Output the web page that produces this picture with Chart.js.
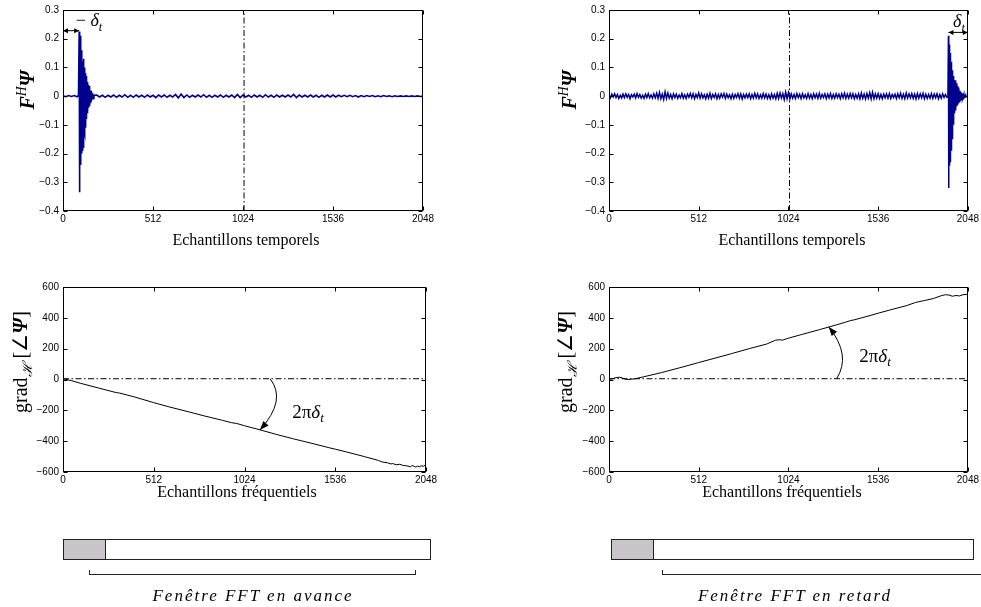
<!DOCTYPE html>
<html>
<head>
<meta charset="utf-8">
<title>Fenêtre FFT en avance / en retard</title>
<script src="https://cdn.jsdelivr.net/npm/chart.js@4.4.0/dist/chart.umd.min.js"></script>
<style>
    html, body { margin: 0; padding: 0; background: #fff; }
    #stage { position: relative; width: 981px; height: 607px; overflow: hidden; }
    #stage canvas { position: absolute; left: 0; top: 0; }
    .txt { position: absolute; z-index: 2; color: #000; white-space: nowrap; line-height: 1;
           font-family: 'Liberation Serif', 'Times New Roman', serif; transform: translate(-50%, -50%); }
    .xt { font-size: 16px; }
    .yt { font-size: 20px; transform: translate(-50%, -50%) rotate(-90deg); }
    .ann { font-size: 18px; }
    .ann.big { font-size: 19px; }
    .cap { font-size: 17px; font-style: italic; letter-spacing: 2px; }
    .bi { font-weight: bold; font-style: italic; }
    .it { font-style: italic; }
    sub, sup { font-size: 0.68em; line-height: 0; }
    .box { position: absolute; z-index: 2; top: 539px; height: 21px; box-sizing: border-box;
           border: 1px solid #222; background: #fff; }
    .box.grey { background: #c9c4c9; }
    .bracket { position: absolute; z-index: 2; top: 570px; height: 5px; box-sizing: border-box;
               border: 1px solid #222; border-top: none; }
</style>
</head>
<body>
<div id="stage">
    <canvas id="c-temps-avance" width="981" height="607"></canvas>
    <canvas id="c-temps-retard" width="981" height="607"></canvas>
    <canvas id="c-phase-avance" width="981" height="607"></canvas>
    <canvas id="c-phase-retard" width="981" height="607"></canvas>

    <!-- axis titles -->
    <div class="txt yt" style="left:27px; top:90px;"><span class="bi">F</span><sup class="it">H</sup><span class="bi">Ψ</span></div>
    <div class="txt yt" style="left:569px; top:90px;"><span class="bi">F</span><sup class="it">H</sup><span class="bi">Ψ</span></div>
    <div class="txt yt" style="left:20px; top:362px;">grad<sub class="it">ℋ</sub> [∠<span class="bi">Ψ</span>]</div>
    <div class="txt yt" style="left:565px; top:362px;">grad<sub class="it">ℋ</sub> [∠<span class="bi">Ψ</span>]</div>
    <div class="txt xt" style="left:246px; top:240px;">Echantillons temporels</div>
    <div class="txt xt" style="left:792px; top:240px;">Echantillons temporels</div>
    <div class="txt xt" style="left:237px; top:492px;">Echantillons fréquentiels</div>
    <div class="txt xt" style="left:782px; top:492px;">Echantillons fréquentiels</div>

    <!-- annotations -->
    <div class="txt ann" style="left:89px; top:20px;">− <span class="it">δ</span><sub class="it">t</sub></div>
    <div class="txt ann" style="left:959px; top:21px;"><span class="it">δ</span><sub class="it">t</sub></div>
    <div class="txt ann big" style="left:308px; top:411px;">2π<span class="it">δ</span><sub class="it">t</sub></div>
    <div class="txt ann big" style="left:875px; top:355px;">2π<span class="it">δ</span><sub class="it">t</sub></div>

    <!-- FFT window sketches -->
    <div class="box" style="left:63px; width:368px;"></div>
    <div class="box grey" style="left:63px; width:43px;"></div>
    <div class="bracket" style="left:89px; width:327px;"></div>
    <div class="txt cap" style="left:253px; top:595px;">Fenêtre FFT en avance</div>

    <div class="box" style="left:611px; width:363px;"></div>
    <div class="box grey" style="left:611px; width:43px;"></div>
    <div class="bracket" style="left:662px; width:340px;"></div>
    <div class="txt cap" style="left:795px; top:595px;">Fenêtre FFT en retard</div>
</div>

<script>
// ── Data ──────────────────────────────────────────────

const CENTER_SAMPLE = 1030;     // vertical dash-dot marker (top plots)
const REF_LEVEL = 5;            // horizontal dash-dot marker (bottom plots)

// Top-left: impulse response, window in advance (burst near the start)
const burstAvanceX = [88, 92, 93, 95, 96, 98, 99, 101, 102, 104,
    105, 107, 108, 110, 111, 113, 114, 116, 117, 119,
    120, 122, 123, 125, 126, 128, 129, 131, 132, 134,
    135, 137, 138, 140, 141, 144, 145, 148, 149, 152,
    153, 156, 157, 160, 161, 165, 166, 170, 171, 176];
const burstAvanceY = [0.002, 0.225, -0.335, 0.19, -0.26, 0.21, -0.22, 0.17, -0.24, 0.15,
    -0.2, 0.16, -0.17, 0.12, -0.19, 0.1, -0.15, 0.13, -0.18, 0.09,
    -0.12, 0.1, -0.13, 0.07, -0.1, 0.08, -0.11, 0.06, -0.08, 0.07,
    -0.07, 0.05, -0.06, 0.045, -0.05, 0.04, -0.04, 0.03, -0.035, 0.035,
    -0.03, 0.02, -0.025, 0.02, -0.018, 0.012, -0.012, 0.008, -0.008, 0.003];
// noise floor in thousandths, one value every NOISE_STEP_AVANCE samples
const NOISE_STEP_AVANCE = 16;
const noiseAvance = [1, -2, 2, -1, 2, -2, 1, -1, 1, -1, 1, -2,
    4, -3, 3, -4, 3, -3, 4, -4, 3, -3, 5, -4,
    3, -4, 4, -3, 3, -4, 4, -3, 3, -5, 4, -3,
    4, -4, 3, -3, 6, -6, 7, -5, 4, -4, 3, -3,
    4, -3, 5, -4, 3, -4, 3, -3, 4, -4, 3, -3,
    4, -5, 6, -5, 4, -3, 3, -4, 4, -3, 3, -4,
    5, -3, 3, -4, 4, -3, 3, -3, 4, -3, 6, -5,
    4, -3, 3, -3, 4, -3, 3, -4, 3, -3, 4, -3,
    4, -3, 3, -2, 3, -2, 3, -2, 2, -3, 2, -2,
    2, -1, 2, -2, 1, -2, 2, -1, 1, -2, 1, -1,
    1, -1, 1, -1, 1, -1, 1, -1, 0];

// Top-right: impulse response, window late (burst near the end)
const burstRetardX = [1934, 1937, 1938, 1940, 1941, 1943, 1944, 1946, 1947, 1949,
    1950, 1952, 1953, 1955, 1956, 1958, 1959, 1961, 1962, 1964,
    1965, 1967, 1968, 1971, 1972, 1975, 1976, 1979, 1980, 1984,
    1985, 1989, 1990, 1995, 1996, 2001, 2002, 2008, 2009, 2016,
    2017, 2025, 2026, 2035, 2036, 2048];
const burstRetardY = [-0.004, 0.21, -0.32, 0.2, -0.24, 0.18, -0.2, 0.15, -0.23, 0.13,
    -0.18, 0.12, -0.19, 0.1, -0.13, 0.09, -0.15, 0.08, -0.11, 0.07,
    -0.1, 0.06, -0.07, 0.05, -0.06, 0.055, -0.05, 0.04, -0.045, 0.045,
    -0.035, 0.035, -0.03, 0.03, -0.025, 0.02, -0.02, 0.015, -0.015, 0.01,
    -0.01, 0.006, -0.006, 0.004, -0.003, 0.0];
// noise floor in thousandths, samples 0..1928
const NOISE_STEP_RETARD = 8;
const noiseRetard = [4, -6, 7, -3, 8, -5, 6, -8, 3, -6, 7,
    -5, 8, -4, 6, -9, 5, -3, 7, -6, 9, -4,
    6, -7, 3, -8, 7, -5, 9, -6, 4, -7, 8,
    -6, 10, -8, 13, -9, 7, -12, 15, -8, 11, -7,
    6, -9, 8, -5, 7, -8, 4, -6, 9, -7, 5,
    -8, 7, -4, 9, -6, 8, -9, 6, -5, 11, -7,
    8, -6, 5, -9, 7, -7, 10, -8, 6, -5, 8,
    -9, 6, -7, 8, -4, 9, -8, 7, -6, 5, -9,
    7, -8, 6, -5, 9, -7, 8, -10, 6, -6, 7,
    -5, 8, -9, 6, -7, 10, -6, 8, -8, 5, -7,
    9, -6, 7, -8, 5, -9, 8, -7, 6, -9, 10,
    -8, 11, -7, 9, -12, 14, -9, 12, -10, 8, -7,
    6, -8, 9, -5, 7, -9, 8, -6, 5, -8, 9,
    -7, 6, -9, 8, -6, 7, -8, 10, -7, 6, -5,
    8, -9, 7, -6, 9, -8, 6, -7, 8, -5, 7,
    -9, 8, -6, 10, -8, 7, -7, 9, -6, 8, -9,
    6, -7, 8, -9, 11, -8, 7, -10, 9, -7, 12,
    -10, 13, -9, 8, -7, 9, -8, 6, -9, 7, -6,
    8, -7, 9, -8, 6, -5, 7, -9, 8, -6, 10,
    -8, 7, -9, 11, -7, 8, -6, 9, -8, 7, -10,
    9, -7, 8, -6, 10, -9, 7, -8, 6, -7, 9,
    -8, 7, -6, 8, -9, 6, -7, 8, -5, 6, -4];

// Bottom-left: unwrapped phase gradient, window in advance
const phaseAvanceX = [0, 50, 100, 200, 300, 320, 400, 512, 600, 700,
    800, 900, 950, 980, 1024, 1100, 1200, 1300, 1400, 1500,
    1536, 1600, 1700, 1780, 1800, 1830, 1850, 1860, 1880, 1900,
    1920, 1940, 1960, 1970, 1980, 1990, 2000, 2010, 2020, 2035, 2048];
const phaseAvanceY = [5, -8, -25, -55, -85, -88, -112, -150, -178, -207,
    -237, -265, -280, -285, -300, -323, -355, -385, -413, -442,
    -452, -470, -500, -525, -535, -540, -548, -545, -553, -550,
    -558, -560, -566, -558, -563, -568, -562, -566, -560, -563, -550];

// Bottom-right: unwrapped phase gradient, window late
const phaseRetardX = [0, 20, 40, 60, 75, 90, 110, 130, 150, 200,
    300, 400, 512, 600, 700, 800, 900, 950, 975, 990,
    1024, 1100, 1200, 1300, 1350, 1380, 1400, 1500, 1536, 1600,
    1700, 1750, 1800, 1850, 1900, 1920, 1940, 1960, 1980, 2000, 2020, 2048];
const phaseRetardY = [0, 5, 12, 15, 10, 3, 0, 2, 5, 18,
    45, 75, 110, 137, 168, 200, 230, 255, 258, 255,
    268, 292, 323, 355, 372, 383, 387, 418, 430, 450,
    480, 500, 512, 525, 545, 550, 548, 540, 545, 542, 550, 553];

// ── Helpers ───────────────────────────────────────────

const W = 981, H = 607, X_AXIS_H = 18;
const SIGNAL_BLUE = '#00008f';
const DASH_DOT = [6, 2.5, 1.5, 2.5];

Chart.defaults.font.family = "'Liberation Sans', Arial, sans-serif";
Chart.defaults.font.size = 10;
Chart.defaults.color = '#000';

function buildSignal(noise, step, bx, by) {
    const lo = bx[0], hi = bx[bx.length - 1];
    const pts = [];
    noise.forEach((v, i) => {
        const x = i * step;
        if (x < lo || x > hi) pts.push({ x, y: v / 1000 });
    });
    bx.forEach((x, i) => pts.push({ x, y: by[i] }));
    return pts.sort((a, b) => a.x - b.x);
}

function zip(xs, ys) {
    return xs.map((x, i) => ({ x, y: ys[i] }));
}

function fmtTick(v) {
    const r = Math.round(v * 10) / 10;
    if (r === 0) return '0';
    const s = Math.abs(r) < 1 ? Math.abs(r).toFixed(1) : String(Math.abs(r));
    return (r < 0 ? '\u2212' : '') + s;
}

function arrowHead(ctx, x, y, dx, dy, len, half) {
    const n = Math.hypot(dx, dy) || 1;
    const ux = dx / n, uy = dy / n;
    ctx.beginPath();
    ctx.moveTo(x, y);
    ctx.lineTo(x - ux * len - uy * half, y - uy * len + ux * half);
    ctx.lineTo(x - ux * len + uy * half, y - uy * len - ux * half);
    ctx.closePath();
    ctx.fill();
}

// Box + inward MATLAB-style ticks, then the annotation arrows
const framePlugin = {
    id: 'frame',
    afterDatasetsDraw(chart, args, opts) {
        const { ctx, chartArea: a } = chart;
        const xs = chart.scales.x, ys = chart.scales.y;
        const L = Math.round(a.left) + 0.5, R = Math.round(a.right) - 0.5;
        const T = Math.round(a.top) + 0.5, B = Math.round(a.bottom) - 0.5;
        ctx.save();
        ctx.strokeStyle = '#000';
        ctx.fillStyle = '#000';
        ctx.lineWidth = 1;
        ctx.strokeRect(L, T, R - L, B - T);
        ctx.beginPath();
        xs.ticks.forEach(t => {
            const px = Math.round(xs.getPixelForValue(t.value)) + 0.5;
            ctx.moveTo(px, B); ctx.lineTo(px, B - 4);
            ctx.moveTo(px, T); ctx.lineTo(px, T + 4);
        });
        ys.ticks.forEach(t => {
            const py = Math.round(ys.getPixelForValue(t.value)) + 0.5;
            ctx.moveTo(L, py); ctx.lineTo(L + 4, py);
            ctx.moveTo(R, py); ctx.lineTo(R - 4, py);
        });
        ctx.stroke();

        (opts.arrows || []).forEach(ar => {
            const p = v => [xs.getPixelForValue(v[0]), ys.getPixelForValue(v[1])];
            const [x0, y0] = p(ar.from), [x1, y1] = p(ar.to);
            ctx.beginPath();
            if (ar.ctrl) {
                const [cx, cy] = p(ar.ctrl);
                ctx.moveTo(x0, y0);
                ctx.quadraticCurveTo(cx, cy, x1, y1);
                ctx.stroke();
                arrowHead(ctx, x1, y1, x1 - cx, y1 - cy, 9, 3.5);
            } else {
                ctx.moveTo(x0, y0);
                ctx.lineTo(x1, y1);
                ctx.stroke();
                arrowHead(ctx, x1, y1, x1 - x0, y1 - y0, 5, 2.5);
                arrowHead(ctx, x0, y0, x0 - x1, y0 - y1, 5, 2.5);
            }
        });
        ctx.restore();
    }
};

function makeChart(id, rect, datasets, yRange, arrows) {
    return new Chart(document.getElementById(id), {
        type: 'line',
        data: { datasets },
        options: {
            responsive: false,
            animation: false,
            events: [],
            layout: { padding: { left: 0, top: rect.top, right: W - rect.right, bottom: H - rect.bottom - X_AXIS_H } },
            elements: { point: { radius: 0 }, line: { tension: 0, borderWidth: 1 } },
            plugins: { legend: { display: false }, tooltip: { enabled: false }, frame: { arrows } },
            scales: {
                x: {
                    type: 'linear', min: 0, max: 2048,
                    grid: { display: false, drawTicks: false }, border: { display: false },
                    ticks: { stepSize: 512, padding: 2, maxRotation: 0, autoSkip: false, callback: v => String(v) },
                    afterFit: s => { s.height = X_AXIS_H; }
                },
                y: {
                    min: yRange[0], max: yRange[1],
                    grid: { display: false, drawTicks: false }, border: { display: false },
                    ticks: { stepSize: yRange[2], padding: 4, callback: fmtTick },
                    afterFit: s => { s.width = rect.left; }
                }
            }
        },
        plugins: [framePlugin]
    });
}

function vLine(x, y0, y1) {
    return { data: [{ x, y: y0 }, { x, y: y1 }], borderColor: '#000', borderDash: DASH_DOT, borderWidth: 1 };
}
function hLine(y) {
    return { data: [{ x: 0, y }, { x: 2048, y }], borderColor: '#000', borderDash: DASH_DOT, borderWidth: 1 };
}

// ── Charts ────────────────────────────────────────────

makeChart('c-temps-avance', { left: 63, top: 10, right: 423, bottom: 211 }, [
    vLine(CENTER_SAMPLE, -0.4, 0.3),
    { data: buildSignal(noiseAvance, NOISE_STEP_AVANCE, burstAvanceX, burstAvanceY), borderColor: SIGNAL_BLUE, borderWidth: 1.6 }
], [-0.4, 0.3, 0.1], [
    { from: [0, 0.228], to: [burstAvanceX[1], 0.228] }
]);

makeChart('c-temps-retard', { left: 609, top: 10, right: 970, bottom: 211 }, [
    vLine(CENTER_SAMPLE, -0.4, 0.3),
    { data: buildSignal(noiseRetard, NOISE_STEP_RETARD, burstRetardX, burstRetardY), borderColor: SIGNAL_BLUE, borderWidth: 1.5 }
], [-0.4, 0.3, 0.1], [
    { from: [burstRetardX[1], 0.222], to: [2048, 0.222] }
]);

makeChart('c-phase-avance', { left: 63, top: 287, right: 426, bottom: 472 }, [
    hLine(REF_LEVEL),
    { data: zip(phaseAvanceX, phaseAvanceY), borderColor: '#000', borderWidth: 1 }
], [-600, 600, 200], [
    { from: [1168, REF_LEVEL], ctrl: [1264, -133], to: [1111, -327] }
]);

makeChart('c-phase-retard', { left: 609, top: 287, right: 970, bottom: 472 }, [
    hLine(REF_LEVEL),
    { data: zip(phaseRetardX, phaseRetardY), borderColor: '#000', borderWidth: 1 }
], [-600, 600, 200], [
    { from: [1299, REF_LEVEL], ctrl: [1384, 159], to: [1254, 341] }
]);
</script>
</body>
</html>
